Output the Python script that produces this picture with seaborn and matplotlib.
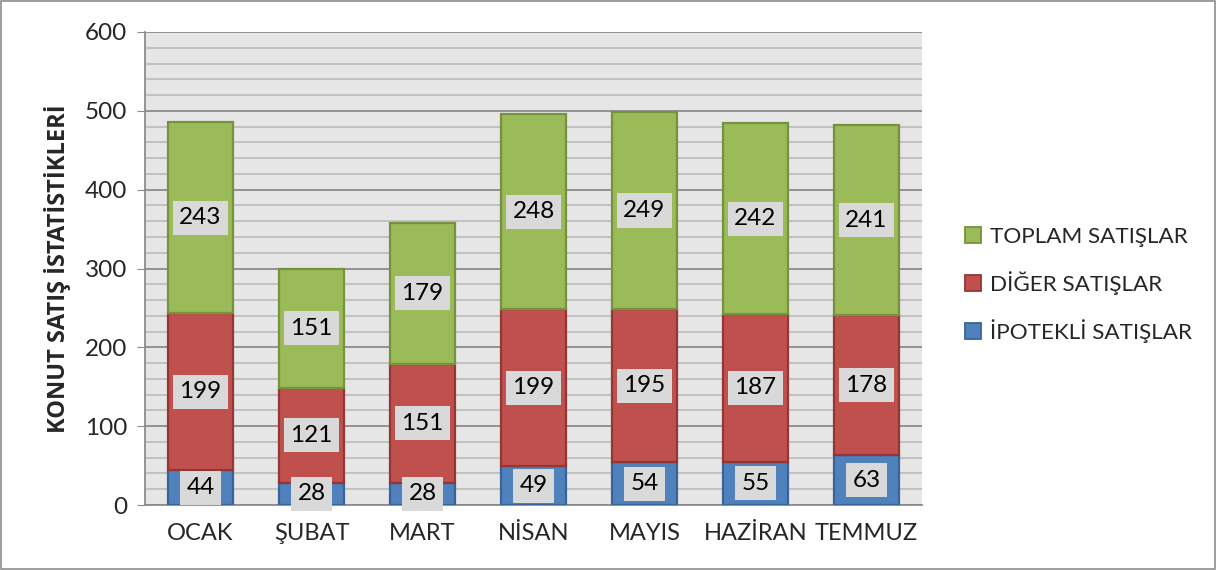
import matplotlib
matplotlib.use("Agg")
import matplotlib.pyplot as plt
import seaborn as sns
import numpy as np
from matplotlib.patches import Rectangle, Patch
from matplotlib.ticker import MultipleLocator

months = ["OCAK", "ŞUBAT", "MART", "NİSAN", "MAYIS", "HAZİRAN", "TEMMUZ"]
ipotekli = [44, 28, 28, 49, 54, 55, 63]
diger = [199, 121, 151, 199, 195, 187, 178]
toplam = [243, 151, 179, 248, 249, 242, 241]
series_names = ["İPOTEKLİ SATIŞLAR", "DİĞER SATIŞLAR", "TOPLAM SATIŞLAR"]
y_label = "KONUT SATIŞ İSTATİSTİKLERİ"

sns.set_style("white")
plt.rcParams["font.family"] = ["Lato", "DejaVu Sans"]

fills = ["#4F81BD", "#C0504D", "#9BBB59"]
edges = ["#3A6396", "#943634", "#76923C"]

fig = plt.figure(figsize=(12.16, 5.70), dpi=100)
ax = fig.add_axes([145/1216, 1-505/570, (922-145)/1216, (505-32)/570])
ax.set_facecolor("#E6E6E6")

series = [ipotekli, diger, toplam]
bottom = np.zeros(len(months))
for vals, fc, ec in zip(series, fills, edges):
    sns.barplot(x=months, y=vals, bottom=bottom, color=fc, edgecolor=ec,
                linewidth=1.6, width=0.585, saturation=1, ax=ax, zorder=3)
    for i, v in enumerate(vals):
        ax.text(i, bottom[i] + v/2, str(v), ha="center", va="center",
                fontsize=17.5, color="#000000", zorder=5,
                bbox=dict(boxstyle="square,pad=0.27", fc="#D9D9D9", ec="none"))
    bottom = bottom + np.array(vals)

ax.set_ylim(0, 600)
ax.set_xlim(-0.5, len(months)-0.5)
ax.yaxis.set_major_locator(MultipleLocator(100))
ax.yaxis.set_minor_locator(MultipleLocator(20))
ax.grid(which="minor", axis="y", color="#BFBFBF", linewidth=1.3, zorder=0)
ax.grid(which="major", axis="y", color="#8C8C8C", linewidth=1.3, zorder=1)
ax.set_axisbelow(True)
for s in ["top", "right"]:
    ax.spines[s].set_visible(False)
ax.spines["left"].set_color("#8C8C8C")
ax.spines["bottom"].set_color("#8C8C8C")
ax.spines["left"].set_linewidth(1.3)
ax.spines["bottom"].set_linewidth(1.3)
ax.tick_params(axis="y", which="major", direction="out", length=6, color="#8C8C8C",
               labelsize=17.5, pad=7, left=True)
ax.tick_params(axis="y", which="minor", length=0)
ax.tick_params(axis="x", length=0, labelsize=17, pad=13)
ax.set_ylabel(y_label, fontsize=17, fontweight="bold", labelpad=10,
              family=["Open Sans", "DejaVu Sans"])
ax.set_xlabel("")

handles = [Patch(facecolor=fills[i], edgecolor=edges[i], linewidth=1.3) for i in [2, 1, 0]]
labels = [series_names[i] for i in [2, 1, 0]]
fig.legend(handles, labels, loc="center left", bbox_to_anchor=(945/1216, 1-285/570),
           frameon=False, fontsize=16.2, handlelength=0.7, handleheight=0.7,
           handletextpad=0.4, labelspacing=1.07)

fig.patches.append(Rectangle((0.0008, 0.0015), 0.9984, 0.997, transform=fig.transFigure,
                             fill=False, edgecolor="#8C8C8C", linewidth=1.2))

fig.savefig("out.png", dpi=100)
